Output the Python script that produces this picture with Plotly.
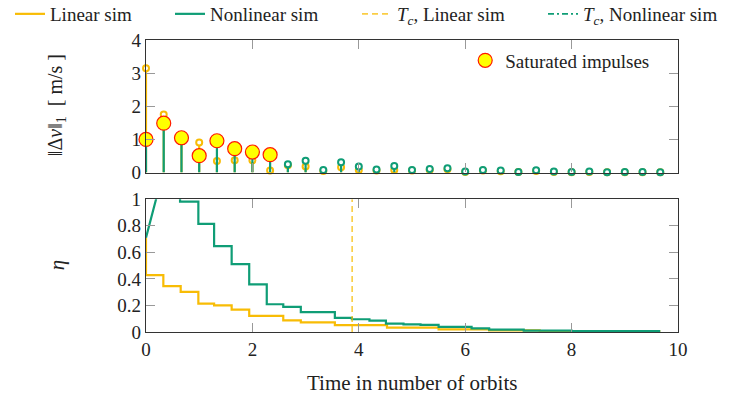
import plotly.graph_objects as go

# ---- data -------------------------------------------------------------
# impulse epochs (orbits)
impulse_t = [0.0, 0.333, 0.667, 1.0, 1.333, 1.667, 2.0, 2.333, 2.667, 3.0,
             3.333, 3.667, 4.0, 4.333, 4.667, 5.0, 5.333, 5.667, 6.0, 6.333,
             6.667, 7.0, 7.333, 7.667, 8.0, 8.333, 8.667, 9.0, 9.333, 9.667]

# ||dv||_1 per impulse [m/s]
linear_dv = [3.15, 1.75, 1.03, 0.91, 0.35, 0.37, 0.37, 0.06, 0.22, 0.18,
             0.05, 0.16, 0.08, 0.06, 0.08, 0.06, 0.08, 0.10, 0.02, 0.06,
             0.04, 0.02, 0.05, 0.02, 0.01, 0.02, 0.01, 0.01, 0.01, 0.01]
nonlinear_dv = [1.00, 1.49, 1.05, 0.51, 0.96, 0.72, 0.62, 0.54, 0.25, 0.36,
                0.08, 0.31, 0.18, 0.09, 0.20, 0.08, 0.11, 0.13, 0.03, 0.08,
                0.06, 0.02, 0.07, 0.03, 0.02, 0.03, 0.01, 0.02, 0.02, 0.01]
saturated_idx = [0, 1, 2, 3, 4, 5, 6, 7]

# eta staircase: initial value, then step epochs and levels
eta_t0, eta_v0 = 0.0, 0.71
eta_t_end = 9.667
lin_step_t = [0.0, 0.326, 0.652, 0.984, 1.28, 1.61, 1.94, 2.58, 2.91, 3.55,
              4.53, 5.50, 6.45, 7.40]
lin_eta = [0.428, 0.345, 0.302, 0.214, 0.200, 0.169, 0.121, 0.088, 0.072, 0.051,
           0.033, 0.020, 0.012, 0.006]
nl_step_t = [0.333, 0.64, 0.984, 1.28, 1.61, 1.94, 2.27, 2.58, 2.91, 3.55,
             3.87, 4.20, 4.51, 4.84, 5.16, 5.50, 6.12, 6.45, 7.10, 8.00]
nl_eta = [1.22, 0.982, 0.814, 0.647, 0.511, 0.358, 0.209, 0.189, 0.149, 0.107,
          0.096, 0.086, 0.063, 0.058, 0.053, 0.038, 0.028, 0.018, 0.011, 0.006]

tc_linear = 3.875      # convergence time, linear sim
tc_nonlinear = None    # not reached within the horizon

x_ticks = [0, 2, 4, 6, 8, 10]
dv_ticks = [0, 1, 2, 3, 4]
eta_ticks = [0, 0.2, 0.4, 0.6, 0.8, 1]

# ---- style ------------------------------------------------------------
ORANGE = "#F8BC05"
GREEN = "#0F9D76"
FONT = "Liberation Serif"
W, H = 734, 406
ML, MR, MT, MB = 146, 56, 40, 74
PW, PH = W - ML - MR, H - MT - MB


def staircase(t0, v0, ts, vs, t_end):
    xs, ys = [t0], [v0]
    for i, (t, v) in enumerate(zip(ts, vs)):
        nxt = ts[i + 1] if i + 1 < len(ts) else t_end
        xs += [t, nxt]
        ys += [v, v]
    return xs, ys


fig = go.Figure()

# impulse stems drawn as one-sided error bars down to zero
for dv, col in ((linear_dv, ORANGE), (nonlinear_dv, GREEN)):
    fig.add_trace(go.Scatter(
        x=impulse_t, y=dv, mode="markers", xaxis="x", yaxis="y",
        marker=dict(symbol="circle", size=6, color="white",
                    line=dict(color=col, width=2)),
        error_y=dict(type="data", symmetric=False, array=[0] * len(dv),
                     arrayminus=dv, width=0, thickness=2.2, color=col),
        cliponaxis=False, showlegend=False, hoverinfo="skip"))

fig.add_trace(go.Scatter(
    x=[impulse_t[i] for i in saturated_idx],
    y=[nonlinear_dv[i] for i in saturated_idx],
    mode="markers", xaxis="x", yaxis="y", name="Saturated impulses",
    marker=dict(symbol="circle", size=14, color="#FFFF00",
                line=dict(color="#FF1A00", width=1.2)),
    cliponaxis=False, legend="legend5"))

# eta traces
lx, ly = staircase(eta_t0, eta_v0, lin_step_t, lin_eta, eta_t_end)
nx, ny = staircase(eta_t0, eta_v0, nl_step_t, nl_eta, eta_t_end)
fig.add_trace(go.Scatter(x=lx, y=ly, mode="lines", xaxis="x2", yaxis="y2",
                         line=dict(color=ORANGE, width=2.2), name="Linear sim",
                         legend="legend"))
fig.add_trace(go.Scatter(x=nx, y=ny, mode="lines", xaxis="x2", yaxis="y2",
                         line=dict(color=GREEN, width=2.2), name="Nonlinear sim",
                         legend="legend2"))
fig.add_trace(go.Scatter(x=[tc_linear, tc_linear], y=[0, 1], mode="lines",
                         xaxis="x2", yaxis="y2", opacity=0.75,
                         line=dict(color=ORANGE, width=1.6, dash="6px,4px"),
                         name="<i>T<sub>c</sub></i>, Linear sim", legend="legend3"))
fig.add_trace(go.Scatter(x=[tc_nonlinear, tc_nonlinear], y=[0, 1], mode="lines",
                         xaxis="x2", yaxis="y2",
                         line=dict(color=GREEN, width=1.6, dash="6px,3px,2px,3px"),
                         name="<i>T<sub>c</sub></i>, Nonlinear sim", legend="legend4"))

axis_common = dict(showgrid=False, zeroline=False, showline=True,
                   linecolor="#333333", linewidth=1.2, mirror="allticks",
                   ticks="inside", ticklen=9, tickwidth=1.2, tickcolor="#999999",
                   tickfont=dict(family=FONT, size=19, color="#222222"))


def top_legend(px, py=-5):
    # legend box placed by its top-left corner, in page pixels
    return dict(x=(px - ML) / PW, y=1 + (MT - py) / PH,
                xanchor="left", yanchor="top", bgcolor="rgba(0,0,0,0)",
                borderwidth=0, font=dict(family=FONT, size=19, color="#222222"))


fig.update_layout(
    width=W, height=H,
    margin=dict(l=ML, r=MR, t=MT, b=MB, autoexpand=False),
    paper_bgcolor="white", plot_bgcolor="white",
    font=dict(family=FONT, size=17, color="#222222"),
    xaxis=dict(domain=[0, 1], range=[0, 10], tickvals=x_ticks,
               showticklabels=False, anchor="y", **axis_common),
    yaxis=dict(domain=[0.546, 1], range=[0, 4], tickvals=dv_ticks,
               anchor="x", **axis_common),
    xaxis2=dict(domain=[0, 1], range=[0, 10], tickvals=x_ticks,
                anchor="y2", **axis_common),
    yaxis2=dict(domain=[0, 0.455], range=[0, 1], tickvals=eta_ticks,
                ticktext=["0", "0.2", "0.4", "0.6", "0.8", "1"],
                anchor="x2", **axis_common),
    legend=top_legend(10),
    legend2=top_legend(170),
    legend3=top_legend(357),
    legend4=top_legend(543),
    legend5=dict(x=0.6, y=0.995, xanchor="left", yanchor="top",
                 bgcolor="rgba(0,0,0,0)", font=dict(family=FONT, size=19)),
    annotations=[
        dict(text="‖Δ<i>v</i>‖<sub>1</sub>  [ m/s ]", textangle=-90,
             xref="paper", yref="paper", x=-0.169, y=0.777,
             xanchor="center", yanchor="middle",
             showarrow=False, font=dict(family=FONT, size=20)),
        dict(text="<i>η</i>", textangle=-90, xref="paper", yref="paper",
             x=-0.167, y=0.229, xanchor="center", yanchor="middle",
             showarrow=False, font=dict(family=FONT, size=21)),
        dict(text="Time in number of orbits", xref="paper", yref="paper",
             x=0.5, y=-0.175, xanchor="center", yanchor="middle",
             showarrow=False, font=dict(family=FONT, size=21)),
    ],
)

fig.write_html("out.html")
